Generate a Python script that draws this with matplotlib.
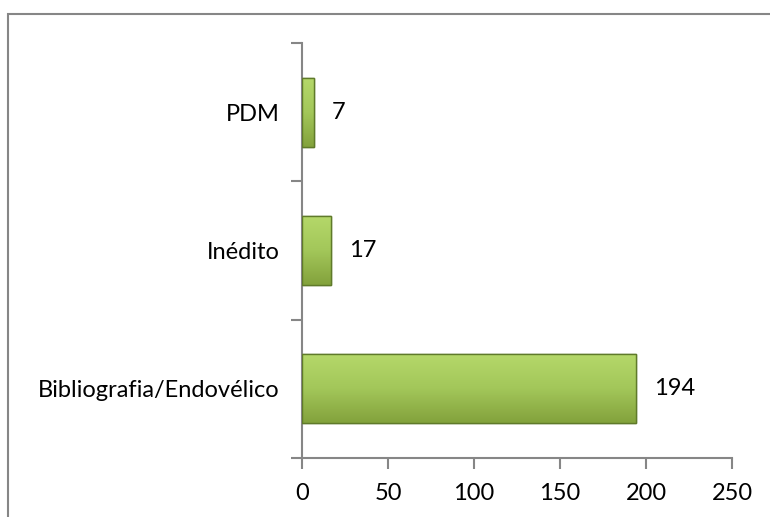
import matplotlib.pyplot as plt
import numpy as np
from matplotlib.patches import Rectangle
from matplotlib.colors import LinearSegmentedColormap

# dados
categorias = ["Bibliografia/Endovélico", "Inédito", "PDM"]
valores = [194, 17, 7]
xticks = [0, 50, 100, 150, 200, 250]

plt.rcParams['font.family'] = ['Lato', 'DejaVu Sans']

fig = plt.figure(figsize=(7.7, 5.17), dpi=100)
# moldura da área do gráfico (cortada à direita e em baixo)
fig.patches.append(Rectangle((8 / 770, -0.05), 1.0, 1 - 14 / 517 + 0.05,
                             transform=fig.transFigure, fill=False,
                             edgecolor="#868686", linewidth=1.5))

ax = fig.add_axes([302 / 770, 1 - 458 / 517, 430 / 770, 415 / 517])

pos = np.arange(len(categorias))
barras = ax.barh(pos, valores, height=0.5, color="#9bbb59",
                 edgecolor="#5f7a2a", linewidth=1.0, zorder=3)

# gradiente para imitar o estilo do Excel
cmap = LinearSegmentedColormap.from_list("verde", ["#83a23c", "#a3c75a", "#b5d86a"])
grad = np.linspace(0, 1, 100).reshape(-1, 1)
for b in barras:
    x0, y0 = b.get_x(), b.get_y()
    w, h = b.get_width(), b.get_height()
    im = ax.imshow(grad, cmap=cmap, aspect="auto", origin="lower",
                   extent=[x0, x0 + w, y0, y0 + h], zorder=3.5)
    im.set_clip_path(b)
    ax.add_patch(Rectangle((x0, y0), w, h, fill=False, edgecolor="#5f7a2a",
                           linewidth=1.0, zorder=4))

ax.bar_label(barras, padding=13, fontsize=17)

ax.set_xlim(0, 250)
ax.set_ylim(-0.5, len(categorias) - 0.5)
ax.set_xticks(xticks)
ax.set_yticks(pos)
ax.set_yticklabels(categorias)
ax.set_yticks(np.arange(-0.5, len(categorias)), minor=True)

ax.tick_params(axis="y", which="major", length=0, pad=16, labelsize=17)
ax.tick_params(axis="y", which="minor", length=8, width=1.5, color="#868686")
ax.tick_params(axis="x", length=8, width=1.5, color="#868686", labelsize=17, pad=10)

for s in ["top", "right"]:
    ax.spines[s].set_visible(False)
for s in ["left", "bottom"]:
    ax.spines[s].set_color("#868686")
    ax.spines[s].set_linewidth(1.5)

plt.savefig("out.png", dpi=100)
